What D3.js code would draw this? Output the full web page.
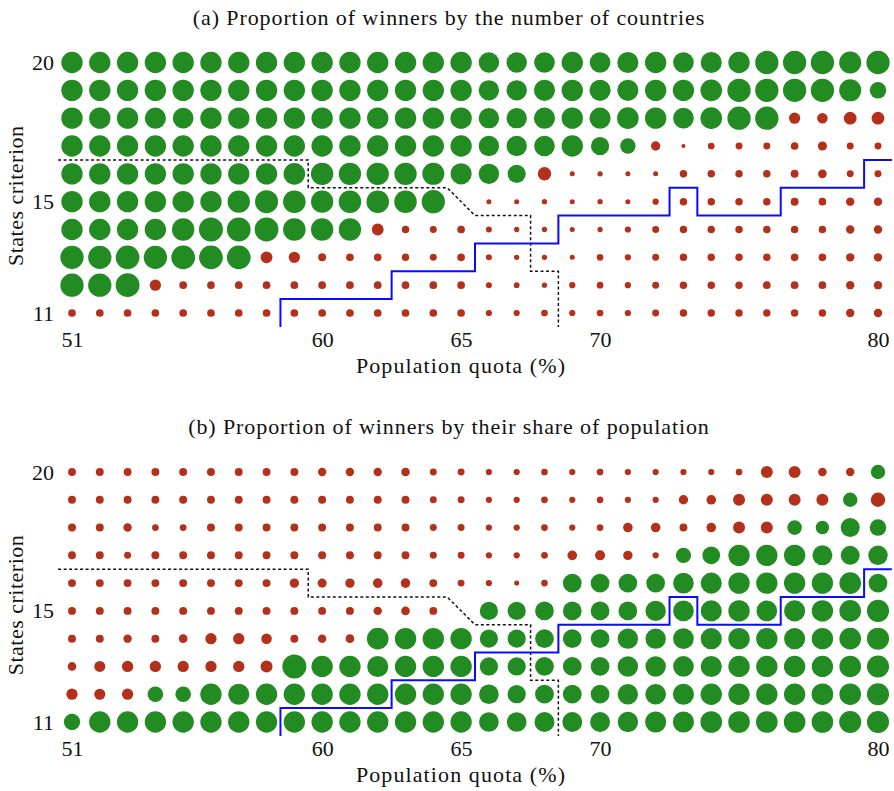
<!DOCTYPE html>
<html>
<head>
<meta charset="utf-8">
<script src="https://cdn.jsdelivr.net/npm/d3@7"></script>
<style>
  html, body { margin: 0; padding: 0; background: #fff; }
  svg text { font-family: "Liberation Serif", "DejaVu Serif", serif; fill: #111; }
</style>
</head>
<body>
<svg id="chart" width="894" height="791"></svg>
<script>
// Population quota (%) along x, states criterion along y
const quotas = d3.range(51, 81);
const criteria = [20, 19, 18, 17, 16, 15, 14, 13, 12, 11];
const xTicks = [51, 60, 65, 70, 80];
const yTicks = [11, 15, 20];

// Cell values, one row per states criterion (20 down to 11), columns quota 51..80.
// Sign gives the outcome (positive = winners, negative = losers), magnitude the proportion (%).
const byCountries = [
  [89,89,89,89,89,89,89,89,89,89,89,89,89,89,89, 85,85,86,89,86,88,89,86,88,89,97,97,97,92,97],
  [89,89,89,89,89,89,89,89,89,89,89,89,89,89,89, 85,85,88,89,88,88,89,89,90,97,97,97,97,92,69],
  [89,89,89,88,86,89,89,89,89,89,89,89,89,89,89, 85,85,88,89,88,90,89,86,90,97,97,-47,-44,-53,-53],
  [89,89,89,89,89,89,89,89,89,89,89,89,89,89,89, 85,85,86,89,76,64,-39,-17,-28,-29,-29,-32,-38,-29,-29],
  [89,89,89,89,89,89,89,89,90,93,93,93,93,92,88, 85,76,-56,-21,-22,-21,-21,-31,-31,-31,-31,-33,-36,-29,-29],
  [89,89,89,89,89,89,93,96,94,93,94,94,94,97,null, -21,-21,-22,-21,-22,-21,-26,-31,-31,-31,-31,-33,-32,-35,-35],
  [89,89,89,89,93,100,99,99,94,93,93,-49,-31,-29,-32, -25,-22,-22,-21,-22,-26,-29,-31,-31,-31,-31,-31,-31,-35,-35],
  [97,97,99,97,99,99,99,-49,-47,-33,-32,-32,-31,-29,-32, -25,-22,-22,-21,-28,-26,-29,-31,-31,-31,-31,-32,-32,-35,-35],
  [97,97,99,-47,-32,-32,-32,-32,-32,-32,-32,-32,-32,-32,-32, -25,-24,-22,-26,-28,-26,-29,-31,-31,-31,-32,-32,-32,-35,-35],
  [-32,-32,-32,-32,-32,-32,-32,-32,-32,-32,-32,-32,-32,-32,-32, -26,-26,-28,-26,-28,-26,-29,-31,-31,-31,-31,-31,-31,-35,-35]
];

const byPopulation = [
  [-33,-33,-33,-33,-33,-33,-33,-33,-33,-35,-35,-35,-36,-29,-29, -26,-26,-28,-26,-28,-26,-26,-26,-26,-28,-50,-50,-36,-35,60],
  [-33,-33,-33,-33,-33,-33,-33,-33,-33,-33,-33,-33,-33,-29,-29, -26,-26,-28,-26,-28,-26,-26,-39,-40,-50,-50,-50,-50,60,-60],
  [-33,-33,-35,-28,-28,-33,-33,-33,-33,-33,-33,-33,-33,-29,-29, -26,-26,-28,-26,-28,-40,-40,-33,-40,-50,-50,61,56,79,69],
  [-33,-33,-29,-33,-33,-33,-33,-33,-33,-33,-33,-33,-33,-29,-29, -26,-26,-28,-40,-42,-39,-26,64,74,89,89,89,83,79,81],
  [-33,-33,-33,-33,-33,-33,-33,-33,-39,-38,-39,-40,-40,-33,-29, -26,-21,-28,78,78,78,78,86,88,89,89,89,89,90,78],
  [-33,-33,-33,-33,-33,-33,-33,-33,-33,-33,-33,-35,-36,-33,null, 76,76,78,78,78,78,85,86,88,89,86,88,89,90,92],
  [-33,-33,-35,-33,-36,-47,-47,-44,-33,-35,-36,90,89,89,89, 76,76,78,78,78,85,85,86,88,89,89,88,89,90,92],
  [-36,-46,-47,-47,-47,-47,-47,-50,100,89,89,88,89,89,89, 76,76,78,78,78,85,85,86,88,89,89,89,89,90,92],
  [-47,-46,-47,65,65,89,88,89,89,89,89,89,89,89,89, 82,76,78,78,78,85,86,88,89,89,89,89,90,90,92],
  [68,89,89,89,89,89,89,89,89,89,89,89,89,89,89, 82,82,83,83,83,85,88,88,90,90,90,90,90,92,92]
];

// Boundary steps as [quota, criterion] vertices
const dottedBoundary = [[50.5,16.5],[59.5,16.5],[59.5,15.5],[64.5,15.5],[65.5,14.5],[67.5,14.5],[67.5,12.5],[68.5,12.5],[68.5,10.5]];
const blueBoundary = [[58.5,10.5],[58.5,11.5],[62.5,11.5],[62.5,12.5],[65.5,12.5],[65.5,13.5],[68.5,13.5],[68.5,14.5],[72.5,14.5],[72.5,15.5],[73.5,15.5],[73.5,14.5],[76.5,14.5],[76.5,15.5],[79.5,15.5],[79.5,16.5],[80.5,16.5]];

const panels = [
  { title: "(a) Proportion of winners by the number of countries", values: byCountries, top: 62.5, bottom: 313 },
  { title: "(b) Proportion of winners by their share of population", values: byPopulation, top: 472, bottom: 722 }
];

const GREEN = "#228b22";
const RED = "#b3301a";

const svg = d3.select("#chart");
const x = d3.scaleLinear().domain([51, 80]).range([72, 878]);
const r = d3.scaleLinear().domain([0, 100]).range([0, 12]);

panels.forEach(p => {
  const y = d3.scaleLinear().domain([11, 20]).range([p.bottom, p.top]);
  const g = svg.append("g");

  g.append("text")
    .attr("x", 449).attr("y", p.top - 38)
    .attr("text-anchor", "middle")
    .attr("font-size", 22)
    .attr("letter-spacing", 0.9)
    .text(p.title);

  const cells = [];
  p.values.forEach((row, i) => row.forEach((v, j) => {
    if (v !== null) cells.push({ q: quotas[j], c: criteria[i], v });
  }));

  g.selectAll("circle").data(cells).join("circle")
    .attr("cx", d => x(d.q))
    .attr("cy", d => y(d.c))
    .attr("r", d => r(Math.abs(d.v)))
    .attr("fill", d => d.v > 0 ? GREEN : RED);

  const line = d3.line().x(d => x(d[0])).y(d => y(d[1]));

  g.append("path").attr("d", line(dottedBoundary))
    .attr("fill", "none").attr("stroke", "#111")
    .attr("stroke-width", 1.5).attr("stroke-dasharray", "3,2.5");

  g.append("path").attr("d", line(blueBoundary))
    .attr("fill", "none").attr("stroke", "#0a0aff")
    .attr("stroke-width", 2);

  const xAxis = g.append("g")
    .attr("transform", `translate(0,${p.bottom + 19})`)
    .call(d3.axisBottom(x).tickValues(xTicks).tickSize(0).tickPadding(0).tickFormat(d3.format("d")));
  xAxis.select(".domain").remove();
  xAxis.selectAll("text").attr("font-size", 22).attr("font-family", "Liberation Serif").attr("fill", "#111").attr("dy", "0.68em");

  const yAxis = g.append("g")
    .attr("transform", "translate(54,0)")
    .call(d3.axisLeft(y).tickValues(yTicks).tickSize(0).tickPadding(0).tickFormat(d3.format("d")));
  yAxis.select(".domain").remove();
  yAxis.selectAll("text").attr("font-size", 22).attr("font-family", "Liberation Serif").attr("fill", "#111");

  g.append("text")
    .attr("x", 461).attr("y", p.bottom + 60)
    .attr("text-anchor", "middle")
    .attr("font-size", 22)
    .attr("letter-spacing", 1.1)
    .text("Population quota (%)");

  g.append("text")
    .attr("transform", `translate(23,${(p.top + p.bottom) / 2 + 8}) rotate(-90)`)
    .attr("text-anchor", "middle")
    .attr("font-size", 22)
    .attr("letter-spacing", 0.5)
    .text("States criterion");
});
</script>
</body>
</html>
